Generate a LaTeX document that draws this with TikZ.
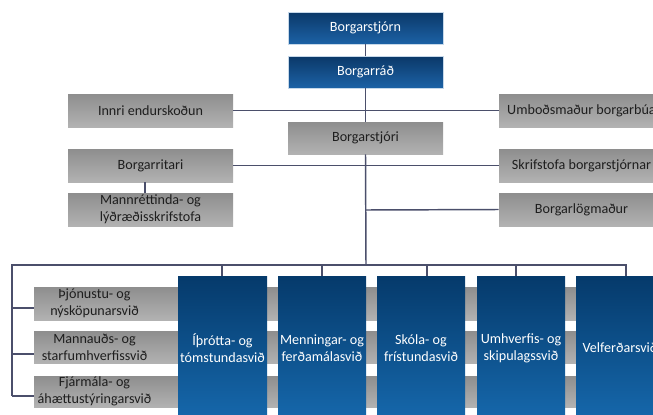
\documentclass[tikz,border=0pt]{standalone}
\usepackage{fontspec}
\setmainfont{Carlito}
\definecolor{linec}{HTML}{4B4F6B}
\definecolor{navytop}{HTML}{0B3868}
\definecolor{navybot}{HTML}{1C62A6}
\definecolor{talltop}{HTML}{053A6B}
\definecolor{tallbot}{HTML}{1668AC}
\definecolor{graytop}{HTML}{8E8E8E}
\definecolor{graybot}{HTML}{B2B2B2}
\definecolor{graytxt}{HTML}{1E1E1E}
\begin{document}
\begin{tikzpicture}[x=0.75pt,y=-0.75pt,
  every node/.style={font=\fontsize{10.6}{12.6}\selectfont, inner sep=0pt, align=center},
  topbox/.style={rectangle, top color=navytop, bottom color=navybot, draw=white!75!navybot, line width=0.4pt, text=white},
  graybox/.style={rectangle, top color=graytop, bottom color=graybot, text=graytxt},
  tallbox/.style={rectangle, top color=talltop, bottom color=tallbot, text=white},
  conn/.style={draw=linec, line width=1.1pt}]
\useasboundingbox (0,0) rectangle (653,414);
\begin{scope}
\clip (0,0) rectangle (653,414);
% gray bands behind the tall boxes
\fill[top color=graytop, bottom color=graybot] (155,287) rectangle (670,320);
\fill[top color=graytop, bottom color=graybot] (155,331) rectangle (670,363);
\fill[top color=graytop, bottom color=graybot] (155,376) rectangle (670,407);

% top boxes
\node[topbox, minimum width=116.25pt, minimum height=24pt] (stjorn) at (365.5,28) {Borgarstjórn};
\node[topbox, minimum width=116.25pt, minimum height=24pt] (rad) at (365.5,72) {Borgarráð};
\node[graybox, minimum width=116.25pt, minimum height=24pt] (stjori) at (365.5,138) {Borgarstjóri};

\node[graybox, minimum width=123.75pt, minimum height=24.75pt] (innri) at (150.5,110.5) {Innri endurskoðun};
\node[graybox, minimum width=123.75pt, minimum height=24.75pt] (umbod) at (581.5,110.5) {Umboðsmaður borgarbúa};
\node[graybox, minimum width=123.75pt, minimum height=24.75pt] (ritari) at (150.5,165.5) {Borgarritari};
\node[graybox, minimum width=123.75pt, minimum height=24.75pt] (skrif) at (581.5,165.5) {Skrifstofa borgarstjórnar};
\node[graybox, minimum width=123.75pt, minimum height=24.75pt] (mannr) at (150.5,209.5) {Mannréttinda- og\\lýðræðisskrifstofa};
\node[graybox, minimum width=123.75pt, minimum height=24.75pt] (logm) at (581.5,209.5) {Borgarlögmaður};

% left division boxes
\node[graybox, minimum width=90.75pt, minimum height=24.75pt] (thjon) at (94.5,303.5) {Þjónustu- og\\nýsköpunarsvið};
\node[graybox, minimum width=90.75pt, minimum height=24pt] (mannaud) at (94.5,347) {Mannauðs- og\\starfumhverfissvið};
\node[graybox, minimum width=90.75pt, minimum height=23.25pt] (fjarm) at (94.5,391.5) {Fjármála- og\\áhættustýringarsvið};

% tall boxes
\node[tallbox, minimum width=66.75pt, minimum height=108pt] (ithr) at (222.5,348) {Íþrótta- og\\tómstundasvið};
\node[tallbox, minimum width=66pt, minimum height=108pt] (menn) at (322,348) {Menningar- og\\ferðamálasvið};
\node[tallbox, minimum width=66pt, minimum height=108pt] (skola) at (421,348) {Skóla- og\\frístundasvið};
\node[tallbox, minimum width=66pt, minimum height=108pt] (umhv) at (521,348) {Umhverfis- og\\skipulagssvið};
\node[tallbox, minimum width=66pt, minimum height=108pt] (velf) at (620,348) {Velferðarsvið};

% connectors
\coordinate (jl) at (366,210);
\coordinate (bus) at (366,265);
\coordinate (busL) at (12,265);
\coordinate (busR) at (626,265);
\coordinate (vL) at (12,396);
\draw[conn] (stjorn.south) -- (rad.north);
\draw[conn] (rad.south) -- (stjori.north);
\draw[conn] (innri.east) -- (umbod.west);
\draw[conn] (ritari.east) -- (skrif.west);
\draw[conn] (stjori.south) -- (bus);
\draw[conn] (jl) -- (logm.west);
\draw[conn] (ritari.south -| 145,0) -- (mannr.north -| 145,0);
\draw[conn] (vL) -- (busL) -- (busR) -- (busR |- velf.north);
\draw[conn] (12,308) -- (thjon.west |- 0,308);
\draw[conn] (12,354) -- (mannaud.west |- 0,354);
\draw[conn] (vL) -- (fjarm.west |- vL);
\draw[conn] (222,265) -- (222,0 |- ithr.north);
\draw[conn] (322,265) -- (322,0 |- menn.north);
\draw[conn] (427,265) -- (427,0 |- skola.north);
\draw[conn] (516,265) -- (516,0 |- umhv.north);
\end{scope}
\end{tikzpicture}
\end{document}
